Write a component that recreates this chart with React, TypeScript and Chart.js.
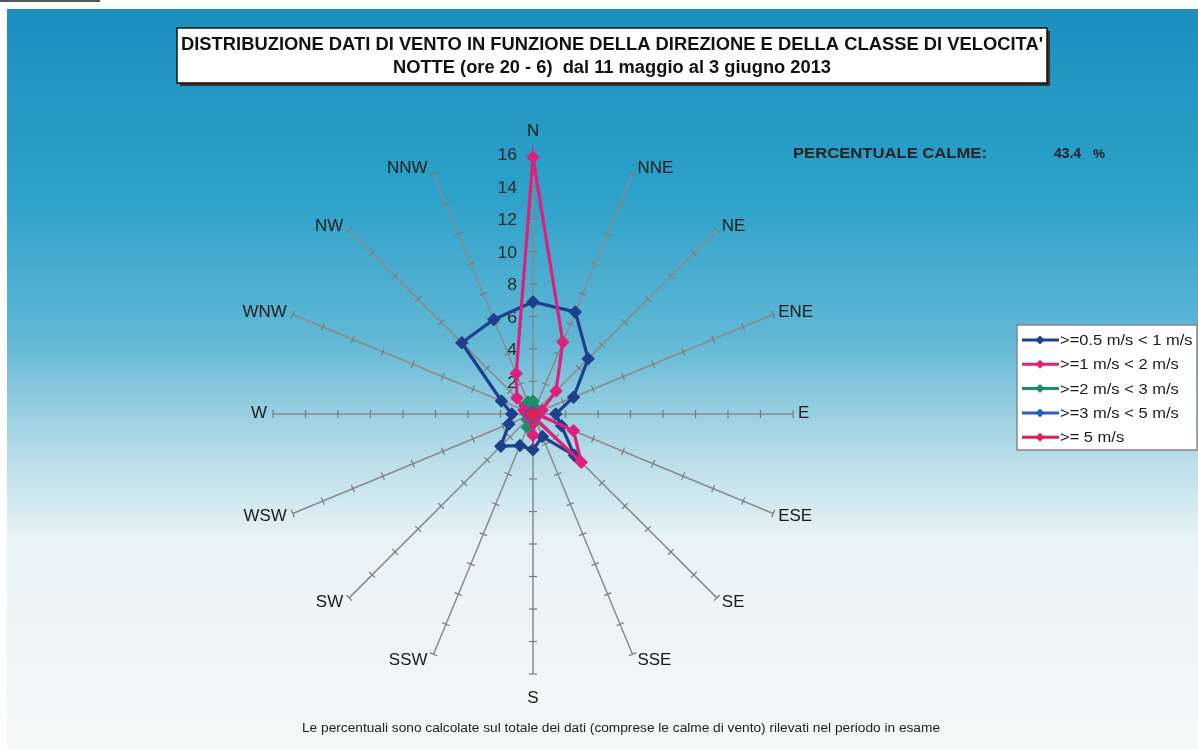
import React, { useEffect, useRef } from "react";
import { Chart, registerables } from "chart.js";

Chart.register(...registerables);

const directions = ["N", "NNE", "NE", "ENE", "E", "ESE", "SE", "SSE", "S", "SSW", "SW", "WSW", "W", "WNW", "NW", "NNW"];
const seriesLabels = [">=0.5 m/s < 1 m/s", ">=1 m/s < 2 m/s", ">=2 m/s < 3 m/s", ">=3 m/s < 5 m/s", ">= 5 m/s"];
const speed05to1 = [6.9, 6.8, 4.8, 2.7, 1.4, 1.9, 3.6, 1.5, 2.2, 2.1, 2.8, 1.6, 1.3, 2.1, 6.2, 6.3];
const speed1to2 = [15.8, 4.8, 2.0, 0.6, 0.3, 2.7, 4.2, 0.3, 1.3, 0.3, 0.3, 0.2, 0.3, 0.6, 1.4, 2.7];
const speed2to3 = [0.8, 0.4, 0.2, 0.1, 0, 0, 0.1, 0.2, 0.6, 0.9, 0.5, 0.3, 0.4, 0.5, 0.7, 0.8];
const speed3to5 = [0.1, 0.1, 0, 0, 0, 0, 0, 0, 0.1, 0.1, 0.1, 0, 0, 0.1, 0.1, 0.1];
const speedOver5 = [0, 0, 0, 0, 0, 0, 0, 0, 0, 0, 0, 0, 0, 0, 0, 0];
const radialTicks = [2, 4, 6, 8, 10, 12, 14, 16];
const seriesColors = ["#1e3f8c", "#e01f7d", "#1e8c6e", "#2563b8", "#e0204e"];

const titleLine1 = "DISTRIBUZIONE DATI DI VENTO IN FUNZIONE DELLA DIREZIONE E DELLA CLASSE DI VELOCITA'";
const titleLine2 = "NOTTE (ore 20 - 6)  dal 11 maggio al 3 giugno 2013";
const calmLabel = "PERCENTUALE CALME:";
const calmValue = "43.4";
const footer = "Le percentuali sono calcolate sul totale dei dati (comprese le calme di vento) rilevati nel periodo in esame";

const FONT = "'Liberation Sans', Arial, sans-serif";

function stretchText(ctx: any, text: string, x: number, y: number, font: string, align: string, sx: number, color: string) {
  ctx.save();
  ctx.font = font;
  ctx.fillStyle = color;
  ctx.textAlign = align;
  ctx.textBaseline = "middle";
  ctx.translate(x, y);
  ctx.scale(sx, 1);
  ctx.fillText(text, 0, 0);
  ctx.restore();
}

function fitText(ctx: any, text: string, x: number, y: number, font: string, width: number, color: string, align = "center") {
  ctx.save();
  ctx.font = font;
  const w = ctx.measureText(text).width;
  ctx.restore();
  stretchText(ctx, text, x, y, font, align, width / w, color);
}

const decorPlugin = {
  id: "decor",
  beforeDraw(chart: any) {
    const ctx = chart.ctx;
    const W = chart.width;
    const H = chart.height;
    ctx.save();
    ctx.fillStyle = "#ffffff";
    ctx.fillRect(0, 0, W, H);
    ctx.fillStyle = "#555";
    ctx.fillRect(0, 0, 100, 2);
    const g = ctx.createLinearGradient(0, 9, 0, H);
    g.addColorStop(0, "#1b90bf");
    g.addColorStop(0.25, "#2ca1c9");
    g.addColorStop(0.45, "#62b8d5");
    g.addColorStop(0.6, "#b6dce8");
    g.addColorStop(0.72, "#e8f3f6");
    g.addColorStop(1, "#f6f7f7");
    ctx.fillStyle = g;
    ctx.fillRect(7, 9, W - 7, H - 9);

    // title box
    ctx.fillStyle = "#333";
    ctx.fillRect(180, 31, 870, 55);
    ctx.fillStyle = "#ffffff";
    ctx.fillRect(177, 28, 870, 55);
    ctx.strokeStyle = "#111";
    ctx.lineWidth = 1.5;
    ctx.strokeRect(177, 28, 870, 55);
    ctx.restore();
    fitText(ctx, titleLine1, 612, 45, `bold 18px ${FONT}`, 862, "#111");
    fitText(ctx, titleLine2, 612, 68, `bold 18px ${FONT}`, 438, "#111");

    // calm text
    fitText(ctx, calmLabel, 793, 154, `bold 14.5px ${FONT}`, 194, "#222", "left");
    fitText(ctx, calmValue, 1054, 154, `bold 14.5px ${FONT}`, 27, "#222", "left");
    stretchText(ctx, "%", 1093, 154, `bold 13.5px ${FONT}`, "left", 1.0, "#222");

    // footer
    fitText(ctx, footer, 621, 729, `12.5px ${FONT}`, 638, "#222");
  },
  beforeDatasetsDraw(chart: any) {
    const scale = chart.scales.r;
    const ctx = chart.ctx;
    ctx.save();
    ctx.strokeStyle = "#7a7a7a";
    ctx.lineWidth = 1.2;
    const labels = chart.data.labels;
    const n = labels.length;
    for (let i = 0; i < n; i++) {
      const a = scale.getIndexAngle(i) - Math.PI / 2;
      const px = -Math.sin(a);
      const py = Math.cos(a);
      for (const v of radialTicks) {
        const p = scale.getPointPositionForValue(i, v);
        ctx.beginPath();
        ctx.moveTo(p.x - px * 4, p.y - py * 4);
        ctx.lineTo(p.x + px * 4, p.y + py * 4);
        ctx.stroke();
      }
    }
    ctx.restore();
    // radial tick labels
    for (const v of radialTicks) {
      const y = scale.yCenter - scale.getDistanceFromCenterForValue(v);
      stretchText(ctx, String(v), scale.xCenter - 16, y + 2, `16px ${FONT}`, "right", 1.1, "#2a2a2a");
    }
    // direction labels
    for (let i = 0; i < n; i++) {
      const a = scale.getIndexAngle(i) - Math.PI / 2;
      const dx = Math.cos(a);
      const dy = Math.sin(a);
      const p = scale.getPointPositionForValue(i, scale.max);
      let x = p.x;
      let y = p.y;
      let align = "center";
      if (Math.abs(dx) < 0.05) {
        y = p.y + (dy < 0 ? -22 : 25);
      } else {
        align = dx > 0 ? "left" : "right";
        x = p.x + (dx > 0 ? 5 : -6);
        y = p.y + dy * 7 + (dy < 0 ? 1 : 0);
      }
      stretchText(ctx, String(labels[i]), x, y, `16px ${FONT}`, align, 1.06, "#1a1a1a");
    }
  },
  afterDraw(chart: any) {
    const ctx = chart.ctx;
    ctx.save();
    const x0 = 1017, y0 = 325, w = 180, h = 125;
    ctx.fillStyle = "#ffffff";
    ctx.fillRect(x0, y0, w, h);
    ctx.strokeStyle = "#888";
    ctx.lineWidth = 1.5;
    ctx.strokeRect(x0, y0, w, h);
    chart.data.datasets.forEach((ds: any, i: number) => {
      const y = y0 + 15 + i * 24.3;
      ctx.strokeStyle = ds.borderColor;
      ctx.lineWidth = 3;
      ctx.beginPath();
      ctx.moveTo(x0 + 5, y);
      ctx.lineTo(x0 + 42, y);
      ctx.stroke();
      ctx.fillStyle = ds.borderColor;
      ctx.beginPath();
      ctx.moveTo(x0 + 23, y - 4.5);
      ctx.lineTo(x0 + 27.5, y);
      ctx.lineTo(x0 + 23, y + 4.5);
      ctx.lineTo(x0 + 18.5, y);
      ctx.closePath();
      ctx.fill();
      stretchText(ctx, ds.label, x0 + 43, y + 1, `15px ${FONT}`, "left", 1.1, "#1a1a1a");
    });
    ctx.restore();
  },
};

export default function App() {
  const ref = useRef<HTMLCanvasElement | null>(null);
  useEffect(() => {
    if (!ref.current) return;
    const values = [speed05to1, speed1to2, speed2to3, speed3to5, speedOver5];
    const orders = [3, 2, 4, 1, 0];
    const chart = new Chart(ref.current, {
      type: "radar",
      data: {
        labels: directions,
        datasets: values.map((d, i) => ({
          label: seriesLabels[i],
          data: d,
          borderColor: seriesColors[i],
          backgroundColor: seriesColors[i],
          pointBackgroundColor: seriesColors[i],
          pointBorderColor: seriesColors[i],
          borderWidth: 3.2,
          pointStyle: "rectRot",
          pointRadius: 4.5,
          fill: false,
          order: orders[i],
        })),
      },
      options: {
        responsive: false,
        animation: false,
        devicePixelRatio: 1,
        layout: { padding: { left: 273, right: 405, top: 154, bottom: 75 } },
        plugins: { legend: { display: false }, tooltip: { enabled: false }, title: { display: false } },
        scales: {
          r: {
            min: 0,
            max: 16,
            ticks: { display: false, stepSize: 2 },
            grid: { display: false },
            angleLines: { display: true, color: "#8a8a8a", lineWidth: 1.5 },
            pointLabels: { display: false },
          },
        },
      },
      plugins: [decorPlugin],
    });
    return () => chart.destroy();
  }, []);
  return (
    <div style={{ position: "fixed", left: 0, top: 0, width: 1198, height: 749 }}>
      <canvas ref={ref} width={1198} height={749} style={{ width: 1198, height: 749, display: "block" }} />
    </div>
  );
}
